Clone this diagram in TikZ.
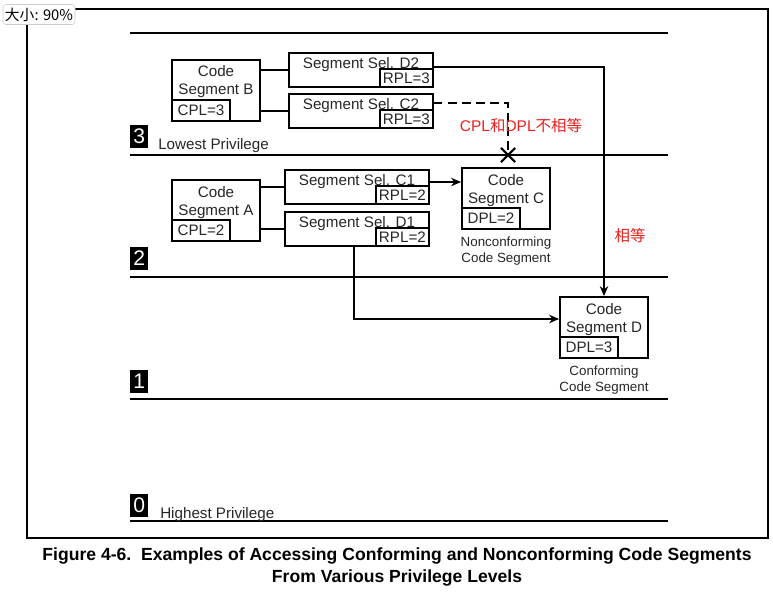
\documentclass[tikz,border=0pt]{standalone}
\usepackage{fontspec}
\setmainfont{Liberation Sans}
\newfontfamily\cjk{Noto Sans CJK SC}
\usepackage{tikz}
\usetikzlibrary{positioning, arrows.meta, calc, shapes.misc}
\definecolor{notered}{RGB}{232,32,32}

\begin{document}
\begin{tikzpicture}[x=0.025cm, y=-0.025cm, >={Stealth[length=7pt, width=6pt]},
  every node/.style={font=\fontsize{10.8}{12.8}\selectfont, text=black!85},
  codebox/.style={draw, line width=1.4pt, minimum width=2.2cm, minimum height=1.525cm, align=center, text depth=0.5cm, inner sep=0pt},
  selbox/.style={draw, line width=1.4pt, minimum width=3.6cm, minimum height=0.85cm, text depth=0.33cm, inner sep=0pt},
  tagbox/.style={draw, line width=1.4pt, minimum width=1.45cm, minimum height=0.52cm, inner sep=1pt},
  rplbox/.style={draw, line width=1.4pt, minimum width=1.33cm, minimum height=0.45cm, inner sep=1pt},
  levelnum/.style={fill=black, text=white, font=\fontsize{15}{15}\selectfont, minimum width=0.45cm, minimum height=0.575cm, inner sep=0pt, anchor=south west},
  levelname/.style={anchor=base west, inner sep=0pt},
  segcap/.style={font=\fontsize{9.5}{11}\selectfont, align=center, inner sep=2pt, label distance=0.1cm},
  note/.style={font=\fontsize{11}{13}\selectfont, text=notered},
  wire/.style={line width=1.4pt}]

\useasboundingbox (0,0) rectangle (773,597);

% Frame
\draw[line width=1.4pt] (27,9) rectangle (768,538);

% Privilege levels
\foreach \y in {33,155,277,399,521}
  \draw[line width=1.4pt] (130,\y) -- (668,\y);

\node[levelnum] (lv3) at (130,148) {3};
\node[levelname] (lowest) at (158,149) {Lowest Privilege};
\node[levelnum] (lv2) at (130,270) {2};
\node[levelnum] (lv1) at (130,393) {1};
\node[levelnum] (lv0) at (130,517) {0};
\node[levelname] (highest) at (160,518) {Highest Privilege};

% Level 3
\node[codebox] (B) at (216,90.5) {Code\\Segment B};
\node[tagbox, anchor=south west] (cplB) at (B.south west) {CPL=3};
\node[selbox] (D2) at (361,70) {Segment Sel. D2};
\node[rplbox, anchor=south east] (rplD2) at (D2.south east) {RPL=3};
\node[selbox] (C2) at (361,111) {Segment Sel. C2};
\node[rplbox, anchor=south east] (rplC2) at (C2.south east) {RPL=3};

% Level 2
\node[codebox] (A) at (216,210.5) {Code\\Segment A};
\node[tagbox, anchor=south west] (cplA) at (A.south west) {CPL=2};
\node[selbox] (C1) at (357,187) {Segment Sel. C1};
\node[rplbox, anchor=south east] (rplC1) at (C1.south east) {RPL=2};
\node[selbox] (D1) at (357,229) {Segment Sel. D1};
\node[rplbox, anchor=south east] (rplD1) at (D1.south east) {RPL=2};

\node[codebox, label={[segcap]below:Nonconforming\\Code Segment}] (C) at (506,198.5) {Code\\Segment C};
\node[tagbox, anchor=south west] (dplC) at (C.south west) {DPL=2};

% Level 1
\node[codebox, label={[segcap]below:Conforming\\Code Segment}] (D) at (604,327.5) {Code\\Segment D};
\node[tagbox, anchor=south west] (dplD) at (D.south west) {DPL=3};

% Blocked access
\node[draw, cross out, line width=1.5pt, minimum size=0.3cm, inner sep=0pt] (nox) at (508,155) {};

% Connectors
\draw[wire] (B.east |- D2.west) -- (D2.west);
\draw[wire] (B.east |- C2.west) -- (C2.west);
\draw[wire] (A.east |- C1.west) -- (C1.west);
\draw[wire] (A.east |- D1.west) -- (D1.west);

\draw[wire, ->] ([yshift=0.075cm]D2.east) -| (D.north);
\draw[wire, dash pattern=on 6pt off 4pt] ([yshift=0.2cm]C2.east) -| (nox.center);
\draw[wire, ->] ([yshift=0.125cm]C1.east) -- ([yshift=0.125cm]C1.east -| C.west);
\draw[wire, ->] ([xshift=-0.075cm]D1.south) |- ([yshift=0.2125cm]D.west);

% Notes
\node[note] (neq) at (521,126) {CPL{\cjk 和}DPL{\cjk 不相等}};
\node[note, font=\cjk\fontsize{11}{13}\selectfont] (eq) at (630,236) {相等};

% Caption
\node[font=\bfseries\fontsize{12.5}{15.6}\selectfont, text=black, align=center] (caption) at (397,567)
  {Figure 4-6.\ \ Examples of Accessing Conforming and Nonconforming Code Segments\\From Various Privilege Levels};

% Zoom tag
\node[draw=gray!40, fill=white, rounded corners=2pt, font=\cjk\fontsize{10.5}{12}\selectfont, text=black,
  minimum width=1.8cm, minimum height=0.5cm, inner sep=1pt] (zoomtag) at (39,14.5) {大小: 90\%};

\end{tikzpicture}
\end{document}
